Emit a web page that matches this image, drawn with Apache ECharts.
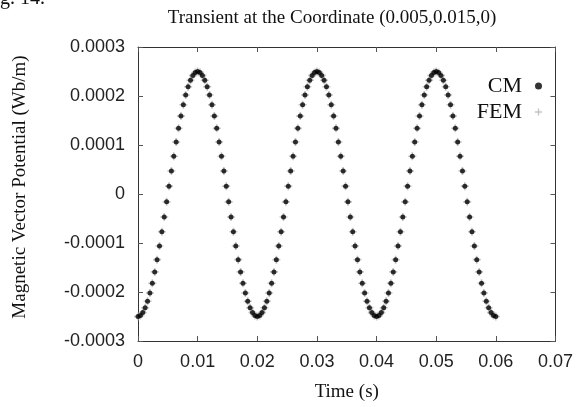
<!DOCTYPE html>
<html>
    <head>
        <meta charset="UTF-8">
        <script src="https://cdn.jsdelivr.net/npm/echarts@6/dist/echarts.min.js"></script>
    </head>

    <body style="margin:0">
        <div id="main" style="width:576px;height:407px"></div>
        <script type="text/javascript">
            // time samples (s)
            var time = [
                0, 0.0004, 0.0008, 0.0012, 0.0016, 0.002, 0.0024, 0.0028, 0.0032, 0.0036,
                0.004, 0.0044, 0.0048, 0.0052, 0.0056, 0.006, 0.0064, 0.0068, 0.0072, 0.0076,
                0.008, 0.0084, 0.0088, 0.0092, 0.0096, 0.01, 0.0104, 0.0108, 0.0112, 0.0116,
                0.012, 0.0124, 0.0128, 0.0132, 0.0136, 0.014, 0.0144, 0.0148, 0.0152, 0.0156,
                0.016, 0.0164, 0.0168, 0.0172, 0.0176, 0.018, 0.0184, 0.0188, 0.0192, 0.0196,
                0.02, 0.0204, 0.0208, 0.0212, 0.0216, 0.022, 0.0224, 0.0228, 0.0232, 0.0236,
                0.024, 0.0244, 0.0248, 0.0252, 0.0256, 0.026, 0.0264, 0.0268, 0.0272, 0.0276,
                0.028, 0.0284, 0.0288, 0.0292, 0.0296, 0.03, 0.0304, 0.0308, 0.0312, 0.0316,
                0.032, 0.0324, 0.0328, 0.0332, 0.0336, 0.034, 0.0344, 0.0348, 0.0352, 0.0356,
                0.036, 0.0364, 0.0368, 0.0372, 0.0376, 0.038, 0.0384, 0.0388, 0.0392, 0.0396,
                0.04, 0.0404, 0.0408, 0.0412, 0.0416, 0.042, 0.0424, 0.0428, 0.0432, 0.0436,
                0.044, 0.0444, 0.0448, 0.0452, 0.0456, 0.046, 0.0464, 0.0468, 0.0472, 0.0476,
                0.048, 0.0484, 0.0488, 0.0492, 0.0496, 0.05, 0.0504, 0.0508, 0.0512, 0.0516,
                0.052, 0.0524, 0.0528, 0.0532, 0.0536, 0.054, 0.0544, 0.0548, 0.0552, 0.0556,
                0.056, 0.0564, 0.0568, 0.0572, 0.0576, 0.058, 0.0584, 0.0588, 0.0592, 0.0596,
                0.06
            ];

            // CM values (Wb/m)
            var cmValues = [
                -0.000250, -0.000248, -0.000242, -0.000232, -0.000219, -0.000202, -0.000182, -0.000159, -0.000134, -0.000106,
                -0.000077, -0.000047, -0.000016, 0.000016, 0.000047, 0.000077, 0.000106, 0.000134, 0.000159, 0.000182,
                0.000202, 0.000219, 0.000232, 0.000242, 0.000248, 0.000250, 0.000248, 0.000242, 0.000232, 0.000219,
                0.000202, 0.000182, 0.000159, 0.000134, 0.000106, 0.000077, 0.000047, 0.000016, -0.000016, -0.000047,
                -0.000077, -0.000106, -0.000134, -0.000159, -0.000182, -0.000202, -0.000219, -0.000232, -0.000242, -0.000248,
                -0.000250, -0.000248, -0.000242, -0.000232, -0.000219, -0.000202, -0.000182, -0.000159, -0.000134, -0.000106,
                -0.000077, -0.000047, -0.000016, 0.000016, 0.000047, 0.000077, 0.000106, 0.000134, 0.000159, 0.000182,
                0.000202, 0.000219, 0.000232, 0.000242, 0.000248, 0.000250, 0.000248, 0.000242, 0.000232, 0.000219,
                0.000202, 0.000182, 0.000159, 0.000134, 0.000106, 0.000077, 0.000047, 0.000016, -0.000016, -0.000047,
                -0.000077, -0.000106, -0.000134, -0.000159, -0.000182, -0.000202, -0.000219, -0.000232, -0.000242, -0.000248,
                -0.000250, -0.000248, -0.000242, -0.000232, -0.000219, -0.000202, -0.000182, -0.000159, -0.000134, -0.000106,
                -0.000077, -0.000047, -0.000016, 0.000016, 0.000047, 0.000077, 0.000106, 0.000134, 0.000159, 0.000182,
                0.000202, 0.000219, 0.000232, 0.000242, 0.000248, 0.000250, 0.000248, 0.000242, 0.000232, 0.000219,
                0.000202, 0.000182, 0.000159, 0.000134, 0.000106, 0.000077, 0.000047, 0.000016, -0.000016, -0.000047,
                -0.000077, -0.000106, -0.000134, -0.000159, -0.000182, -0.000202, -0.000219, -0.000232, -0.000242, -0.000248,
                -0.000250
            ];

            // FEM values (Wb/m) - sit right on the CM points
            var femValues = [
                -0.000250, -0.000248, -0.000242, -0.000232, -0.000219, -0.000202, -0.000182, -0.000159, -0.000134, -0.000106,
                -0.000077, -0.000047, -0.000016, 0.000016, 0.000047, 0.000077, 0.000106, 0.000134, 0.000159, 0.000182,
                0.000202, 0.000219, 0.000232, 0.000242, 0.000248, 0.000250, 0.000248, 0.000242, 0.000232, 0.000219,
                0.000202, 0.000182, 0.000159, 0.000134, 0.000106, 0.000077, 0.000047, 0.000016, -0.000016, -0.000047,
                -0.000077, -0.000106, -0.000134, -0.000159, -0.000182, -0.000202, -0.000219, -0.000232, -0.000242, -0.000248,
                -0.000250, -0.000248, -0.000242, -0.000232, -0.000219, -0.000202, -0.000182, -0.000159, -0.000134, -0.000106,
                -0.000077, -0.000047, -0.000016, 0.000016, 0.000047, 0.000077, 0.000106, 0.000134, 0.000159, 0.000182,
                0.000202, 0.000219, 0.000232, 0.000242, 0.000248, 0.000250, 0.000248, 0.000242, 0.000232, 0.000219,
                0.000202, 0.000182, 0.000159, 0.000134, 0.000106, 0.000077, 0.000047, 0.000016, -0.000016, -0.000047,
                -0.000077, -0.000106, -0.000134, -0.000159, -0.000182, -0.000202, -0.000219, -0.000232, -0.000242, -0.000248,
                -0.000250, -0.000248, -0.000242, -0.000232, -0.000219, -0.000202, -0.000182, -0.000159, -0.000134, -0.000106,
                -0.000077, -0.000047, -0.000016, 0.000016, 0.000047, 0.000077, 0.000106, 0.000134, 0.000159, 0.000182,
                0.000202, 0.000219, 0.000232, 0.000242, 0.000248, 0.000250, 0.000248, 0.000242, 0.000232, 0.000219,
                0.000202, 0.000182, 0.000159, 0.000134, 0.000106, 0.000077, 0.000047, 0.000016, -0.000016, -0.000047,
                -0.000077, -0.000106, -0.000134, -0.000159, -0.000182, -0.000202, -0.000219, -0.000232, -0.000242, -0.000248,
                -0.000250
            ];

            var seriesNames = ['CM', 'FEM'];

            var plusIcon = 'path://M-1,-5H1V-1H5V1H1V5H-1V1H-5V-1H-1Z';
            var serif = 'Liberation Serif';
            var sans = 'Liberation Sans';

            function pairs(xs, ys) {
                return xs.map(function(x, i) { return [x, ys[i]]; });
            }

            function fmt(digits) {
                return function(v) { return String(+v.toFixed(digits)); };
            }

            var chartDom = document.getElementById('main');
            var myChart = echarts.init(chartDom);

            var baseAxis = {
                axisLine: { onZero: false, lineStyle: { color: '#333', width: 1 } },
                axisTick: { inside: true, length: 5, lineStyle: { color: '#555' } },
                splitLine: { show: false }
            };

            var option = {
                animation: false,
                backgroundColor: '#fff',
                title: {
                    text: 'Transient at the Coordinate (0.005,0.015,0)',
                    left: 327,
                    top: 4,
                    textAlign: 'center',
                    textStyle: { fontFamily: serif, fontSize: 19, fontWeight: 'normal', color: '#111' }
                },
                graphic: [{
                    type: 'text',
                    left: 0,
                    top: -11,
                    style: { text: 'g. 14.', font: '20px "Liberation Serif"', fill: '#111' }
                }],
                legend: {
                    orient: 'vertical',
                    align: 'right',
                    right: 29,
                    top: 70,
                    itemGap: 4,
                    itemWidth: 7,
                    itemHeight: 7,
                    data: [
                        { name: seriesNames[0], icon: 'circle' },
                        { name: seriesNames[1], icon: plusIcon }
                    ],
                    textStyle: { fontFamily: serif, fontSize: 22, color: '#111', padding: [0, 8, 0, 0] }
                },
                grid: { left: 138, right: 19, top: 47, bottom: 64 },
                xAxis: [
                    Object.assign({}, baseAxis, {
                        type: 'value',
                        min: 0, max: 0.07, interval: 0.01,
                        name: 'Time (s)',
                        nameLocation: 'middle',
                        nameGap: 42,
                        nameTextStyle: { fontFamily: serif, fontSize: 19, color: '#111' },
                        axisLabel: { margin: 12, fontFamily: sans, fontSize: 18, color: '#222', formatter: fmt(2) }
                    }),
                    Object.assign({}, baseAxis, {
                        type: 'value', position: 'top',
                        min: 0, max: 0.07, interval: 0.01,
                        axisLabel: { show: false }
                    })
                ],
                yAxis: [
                    Object.assign({}, baseAxis, {
                        type: 'value',
                        min: -0.0003, max: 0.0003, interval: 0.0001,
                        name: 'Magnetic Vector Potential (Wb/m)',
                        nameLocation: 'middle',
                        nameGap: 108,
                        nameTextStyle: { fontFamily: serif, fontSize: 19, color: '#111', padding: [0, 0, 0, 14] },
                        axisLabel: { margin: 13, fontFamily: sans, fontSize: 18, color: '#222', formatter: fmt(4) }
                    }),
                    Object.assign({}, baseAxis, {
                        type: 'value', position: 'right',
                        min: -0.0003, max: 0.0003, interval: 0.0001,
                        axisLabel: { show: false }
                    })
                ],
                series: [
                    {
                        name: seriesNames[1],
                        type: 'scatter',
                        symbol: plusIcon,
                        symbolSize: 8,
                        itemStyle: { color: '#b5b5b5' },
                        data: pairs(time, femValues),
                        z: 2
                    },
                    {
                        name: seriesNames[0],
                        type: 'scatter',
                        symbol: 'circle',
                        symbolSize: 5,
                        itemStyle: { color: '#000' },
                        data: pairs(time, cmValues),
                        z: 3
                    }
                ]
            };

            option && myChart.setOption(option);
        </script>
    </body>
</html>
